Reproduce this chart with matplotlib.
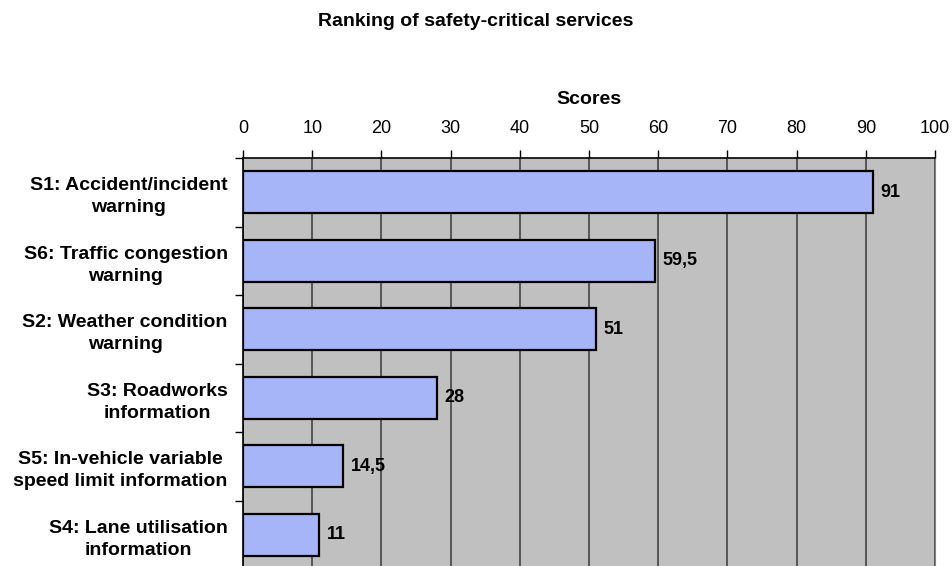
import matplotlib
matplotlib.use("Agg")
import matplotlib.pyplot as plt
import numpy as np

plt.rcParams['font.family'] = ['Liberation Sans', 'DejaVu Sans']

services = [
    "S1: Accident/incident\nwarning",
    "S6: Traffic congestion\nwarning",
    "S2: Weather condition\nwarning",
    "S3: Roadworks\ninformation",
    "S5: In-vehicle variable\nspeed limit information",
    "S4: Lane utilisation\ninformation",
]
scores = [91, 59.5, 51, 28, 14.5, 11]
score_labels = ["91", "59,5", "51", "28", "14,5", "11"]
x_ticks = [0, 10, 20, 30, 40, 50, 60, 70, 80, 90, 100]

fig = plt.figure(figsize=(9.52, 5.66), dpi=100)
ax = fig.add_axes([243 / 952, -3 / 566, (935 - 243) / 952, (569 - 158) / 566])
ax.set_facecolor('#c0c0c0')

pos = np.arange(len(services))
ax.barh(pos, scores, height=0.61, color='#a6b4f8', edgecolor='black',
        linewidth=1.6, zorder=3)

for p, v, lab in zip(pos, scores, score_labels):
    ax.text(v + 1.1, p, lab, va='center', ha='left', fontsize=13,
            fontweight='bold', zorder=4)

ax.set_xlim(0, 100)
ax.set_ylim(len(services) - 0.5, -0.5)

# x axis along the top
ax.xaxis.tick_top()
ax.xaxis.set_label_position('top')
ax.set_xticks(x_ticks)
ax.tick_params(axis='x', direction='out', length=6, width=1, pad=9,
               labelsize=13, color='black')
ax.set_xlabel('Scores', fontsize=14, fontweight='bold', labelpad=12)
ax.grid(axis='x', color='#444444', linewidth=1.2, zorder=1)

# category labels, with tick marks between categories
ax.set_yticks(pos)
ax.set_yticklabels(services, fontsize=14, fontweight='bold',
                   multialignment='center', linespacing=1.4)
ax.tick_params(axis='y', which='major', length=0, pad=11)
ax.set_yticks(np.arange(-0.5, len(services), 1), minor=True)
ax.tick_params(axis='y', which='minor', direction='out', length=6, width=1)

for side in ['left', 'top']:
    ax.spines[side].set_color('black')
    ax.spines[side].set_linewidth(1.2)
ax.spines['right'].set_color('#808080')
ax.spines['bottom'].set_visible(False)

fig.text(0.5, 1 - 21 / 566, 'Ranking of safety-critical services',
         ha='center', va='center', fontsize=14, fontweight='bold')

fig.savefig('out.png', dpi=100)
